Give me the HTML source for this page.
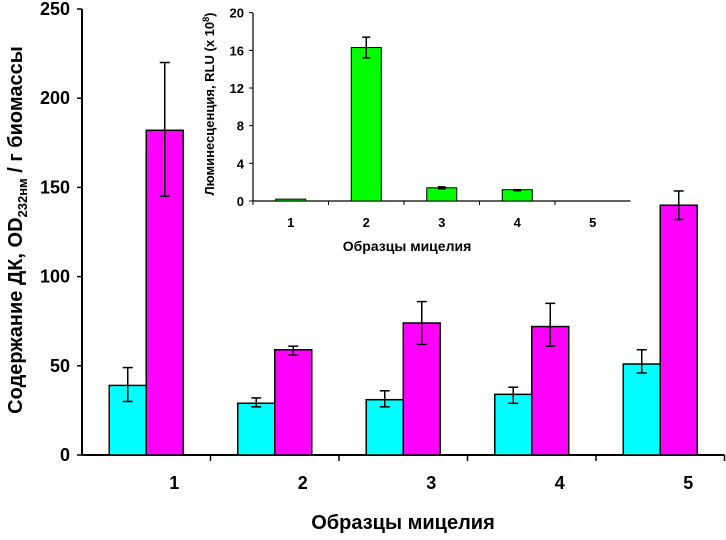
<!DOCTYPE html>
<html><head><meta charset="utf-8"><style>
body{margin:0;background:#fff}
svg text{font-family:"Liberation Sans",Arial,sans-serif;font-weight:bold;fill:#000}
</style></head><body>
<svg id="c" width="726" height="535" xmlns="http://www.w3.org/2000/svg">
<g id="main"></g><g id="inset"></g>
<text x="22" y="230" font-size="20" text-anchor="middle" transform="rotate(-90 22 230)">Содержание ДК, OD<tspan font-size="13" dy="5">232нм</tspan><tspan dy="-5"> / г биомассы</tspan></text>
<text x="403" y="529" font-size="20" text-anchor="middle">Образцы мицелия</text>
<text x="214" y="104" font-size="13" text-anchor="middle" transform="rotate(-90 214 104)">Люминесценция, RLU (x 10<tspan font-size="9" dy="-5">8</tspan><tspan dy="5">)</tspan></text>
<text x="407" y="251" font-size="14" text-anchor="middle">Образцы мицелия</text>
</svg>
<script>
const categories=["1","2","3","4","5"];
const cyanVals=[39,29,31,34,51];
const cyanLo=[30,27,27,29,46];
const cyanHi=[49,32,36,38,59];
const magVals=[182,59,74,72,140];
const magLo=[145,56,62,61,132];
const magHi=[220,61,86,85,148];
const yTicks=[0,50,100,150,200,250];
const insetVals=[0.2,16.3,1.4,1.2,0];
const insetLo=[0.2,15.2,1.3,1.1,0];
const insetHi=[0.2,17.4,1.5,1.2,0];
const insetTicks=[0,4,8,12,16,20];
const NS="http://www.w3.org/2000/svg";
function mk(p,t,a){const e=document.createElementNS(NS,t);for(const k in a)e.setAttribute(k,a[k]);p.appendChild(e);return e;}
const M=document.getElementById('main');
const x0=82,cw=128.5,yb=455,yt=9;
const y=v=>yb-(v/250)*(yb-yt);
mk(M,'line',{x1:x0,y1:yt,x2:x0,y2:yb,stroke:'#000','stroke-width':2});
mk(M,'line',{x1:x0,y1:yb,x2:x0+5*cw,y2:yb,stroke:'#000','stroke-width':2});
yTicks.forEach(t=>{mk(M,'line',{x1:x0-5,y1:y(t),x2:x0,y2:y(t),stroke:'#000','stroke-width':1.5});
const tx=mk(M,'text',{x:x0-12,y:y(t)+6,'font-size':18,'text-anchor':'end'});tx.textContent=t;

});
function eb(P,cx,lo,hi,yf,w){mk(P,'line',{x1:cx,y1:yf(lo),x2:cx,y2:yf(hi),stroke:'#000','stroke-width':1.5});
[lo,hi].forEach(v=>mk(P,'line',{x1:cx-w,y1:yf(v),x2:cx+w,y2:yf(v),stroke:'#000','stroke-width':1.5}));}
categories.forEach((c,i)=>{const cx=x0+cw*(i+0.5);
mk(M,'line',{x1:x0+cw*(i+1),y1:yb,x2:x0+cw*(i+1),y2:yb+6,stroke:'#000','stroke-width':1.5});
const b1=mk(M,'rect',{x:cx-37,y:y(cyanVals[i]),width:37,height:yb-y(cyanVals[i]),fill:'#00ffff',stroke:'#000','stroke-width':1.5});


const b2=mk(M,'rect',{x:cx,y:y(magVals[i]),width:37,height:yb-y(magVals[i]),fill:'#ff00ff',stroke:'#000','stroke-width':1.5});


eb(M,cx-18.5,cyanLo[i],cyanHi[i],y,5);eb(M,cx+18.5,magLo[i],magHi[i],y,5);
const t=mk(M,'text',{x:cx+28,y:yb+34,'font-size':18,'text-anchor':'middle'});t.textContent=c;

});
const I=document.getElementById('inset');
const ix0=253,icw=75.5,iyb=201,iyt=12.7;
const iy=v=>iyb-(v/20)*(iyb-iyt);
mk(I,'line',{x1:ix0,y1:iyt,x2:ix0,y2:iyb,stroke:'#000','stroke-width':1.2});
mk(I,'line',{x1:ix0,y1:iyb,x2:ix0+5*icw,y2:iyb,stroke:'#000','stroke-width':1.2});
insetTicks.forEach(t=>{mk(I,'line',{x1:ix0-4,y1:iy(t),x2:ix0,y2:iy(t),stroke:'#000'});
const tx=mk(I,'text',{x:ix0-9,y:iy(t)+5,'font-size':13,'text-anchor':'end'});tx.textContent=t;

});
categories.forEach((c,i)=>{const cx=ix0+icw*(i+0.5);
mk(I,'line',{x1:ix0+icw*i,y1:iyb,x2:ix0+icw*i,y2:iyb+4,stroke:'#000'});
const b=mk(I,'rect',{x:cx-15,y:iy(insetVals[i]),width:30,height:iyb-iy(insetVals[i]),fill:'#00ff00',stroke:'#000','stroke-width':1});


if(insetHi[i]>insetLo[i])eb(I,cx,insetLo[i],insetHi[i],iy,4);
const t=mk(I,'text',{x:cx,y:iyb+26,'font-size':13,'text-anchor':'middle'});t.textContent=c;

});
</script>
</body></html>
